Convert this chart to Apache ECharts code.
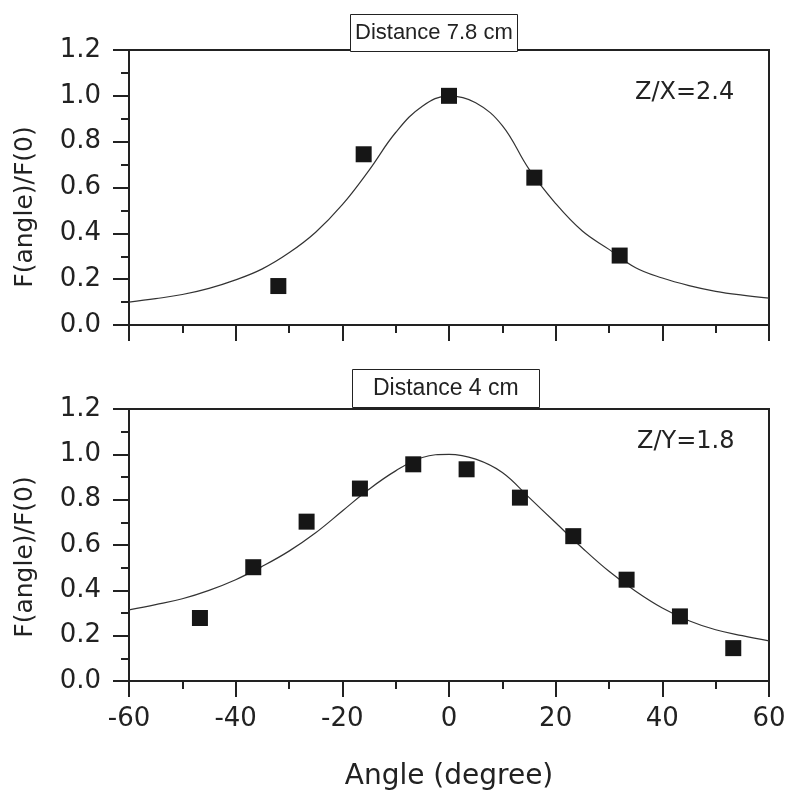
<!DOCTYPE html>
<html>
<head>
<meta charset="utf-8">
<script src="https://cdn.jsdelivr.net/npm/echarts@6/dist/echarts.min.js"></script>
<style>
  html, body { margin: 0; padding: 0; background: #fff; }
  #chart { width: 787px; height: 790px; }
</style>
</head>
<body>
<div id="chart"></div>
<script>
// measured points, top panel (distance 7.8 cm)
const topAngles = [-32, -16, 0, 16, 32]
const topValues = [0.17, 0.745, 1.0, 0.643, 0.303]
// measured points, bottom panel (distance 4 cm)
const botAngles = [-46.7, -36.7, -26.7, -16.7, -6.7, 3.3, 13.3, 23.3, 33.3, 43.3, 53.3]
const botValues = [0.278, 0.502, 0.703, 0.849, 0.956, 0.934, 0.809, 0.639, 0.447, 0.285, 0.145]
// fit curves, every 5 degrees
const fitAngles = [-60, -55, -50, -45, -40, -35, -30, -25, -20, -15, -10, -5, 0, 5, 10, 15, 20, 25, 30, 35, 40, 45, 50, 55, 60]
const topFit = [0.10, 0.115, 0.133, 0.16, 0.197, 0.245, 0.315, 0.405, 0.525, 0.675, 0.84, 0.955, 1.0, 0.97, 0.87, 0.68, 0.53, 0.41, 0.33, 0.25, 0.205, 0.172, 0.147, 0.13, 0.117]
const botFit = [0.314, 0.337, 0.363, 0.40, 0.447, 0.506, 0.573, 0.654, 0.75, 0.846, 0.927, 0.986, 1.0, 0.979, 0.92, 0.81, 0.698, 0.587, 0.484, 0.396, 0.322, 0.266, 0.226, 0.20, 0.177]

const titles = ['Distance 7.8 cm', 'Distance 4 cm']
const notes = ['Z/X=2.4', 'Z/Y=1.8']
const yName = 'F(angle)/F(0)'
const xName = 'Angle (degree)'

const ink = '#222'
const tickFont = 'DejaVu Sans'

const pair = (xs, ys) => xs.map((x, i) => [x, ys[i]])

function xAxisFor(gridIndex, showLabels) {
  return {
    type: 'value',
    gridIndex,
    min: -60,
    max: 60,
    interval: 20,
    name: showLabels ? xName : '',
    nameLocation: 'middle',
    nameGap: 82,
    nameTextStyle: { fontFamily: tickFont, fontSize: 28, color: ink },
    axisLine: { show: true, onZero: false, lineStyle: { color: ink, width: 2 } },
    axisTick: { show: true, length: 16, lineStyle: { color: ink, width: 2 } },
    minorTick: { show: true, splitNumber: 2, length: 8, lineStyle: { color: ink, width: 2 } },
    axisLabel: {
      show: showLabels,
      margin: 25,
      fontFamily: tickFont,
      fontSize: 26,
      color: ink,
    },
    splitLine: { show: false },
  }
}

function yAxisFor(gridIndex) {
  return {
    type: 'value',
    gridIndex,
    min: 0,
    max: 1.2,
    interval: 0.2,
    axisLine: { show: true, onZero: false, lineStyle: { color: ink, width: 2 } },
    axisTick: { show: true, length: 16, lineStyle: { color: ink, width: 2 } },
    minorTick: { show: true, splitNumber: 2, length: 8, lineStyle: { color: ink, width: 2 } },
    axisLabel: {
      margin: 28,
      fontFamily: tickFont,
      fontSize: 26,
      color: ink,
      formatter: v => v.toFixed(1),
    },
    splitLine: { show: false },
  }
}

function fitSeries(idx, data) {
  return {
    type: 'line',
    xAxisIndex: idx,
    yAxisIndex: idx,
    data,
    smooth: 0.4,
    showSymbol: false,
    silent: true,
    lineStyle: { color: '#333', width: 1.2 },
    z: 2,
  }
}

function pointSeries(idx, data) {
  return {
    type: 'scatter',
    xAxisIndex: idx,
    yAxisIndex: idx,
    data,
    symbol: 'rect',
    symbolSize: 16,
    itemStyle: { color: '#161616', opacity: 1 },
    z: 3,
  }
}

const chart = echarts.init(document.getElementById('chart'), null, { renderer: 'canvas' })

chart.setOption({
  backgroundColor: '#fff',
  animation: false,
  title: [
    {
      text: titles[0],
      left: 350,
      top: 14,
      padding: [8, 5, 8, 5],
      borderWidth: 1,
      borderColor: ink,
      backgroundColor: '#fff',
      textStyle: { fontFamily: 'Liberation Sans', fontSize: 22, fontWeight: 'normal', color: ink },
    },
    {
      text: titles[1],
      left: 352,
      top: 369,
      padding: [8, 21, 8, 21],
      borderWidth: 1,
      borderColor: ink,
      backgroundColor: '#fff',
      textStyle: { fontFamily: 'Liberation Sans', fontSize: 23, fontWeight: 'normal', color: ink },
    },
    {
      text: notes[0],
      left: 635,
      top: 81,
      padding: 0,
      textStyle: { fontFamily: tickFont, fontSize: 24, fontWeight: 'normal', color: ink },
    },
    {
      text: notes[1],
      left: 637,
      top: 430,
      padding: 0,
      textStyle: { fontFamily: tickFont, fontSize: 24, fontWeight: 'normal', color: ink },
    },
  ],
  grid: [
    { left: 129, right: 18, top: 50, height: 275, show: true, borderColor: ink, borderWidth: 2, outerBoundsMode: 'none', containLabel: false },
    { left: 129, right: 18, top: 409, height: 272, show: true, borderColor: ink, borderWidth: 2, outerBoundsMode: 'none', containLabel: false },
  ],
  xAxis: [xAxisFor(0, false), xAxisFor(1, true)],
  yAxis: [yAxisFor(0), yAxisFor(1)],
  graphic: [
    {
      type: 'text',
      x: 25,
      y: 207,
      rotation: Math.PI / 2,
      style: { text: yName, fontFamily: tickFont, fontSize: 25, fill: ink, align: 'center', verticalAlign: 'middle' },
    },
    {
      type: 'text',
      x: 25,
      y: 557,
      rotation: Math.PI / 2,
      style: { text: yName, fontFamily: tickFont, fontSize: 25, fill: ink, align: 'center', verticalAlign: 'middle' },
    },
  ],
  series: [
    fitSeries(0, pair(fitAngles, topFit)),
    pointSeries(0, pair(topAngles, topValues)),
    fitSeries(1, pair(fitAngles, botFit)),
    pointSeries(1, pair(botAngles, botValues)),
  ],
})
</script>
</body>
</html>
